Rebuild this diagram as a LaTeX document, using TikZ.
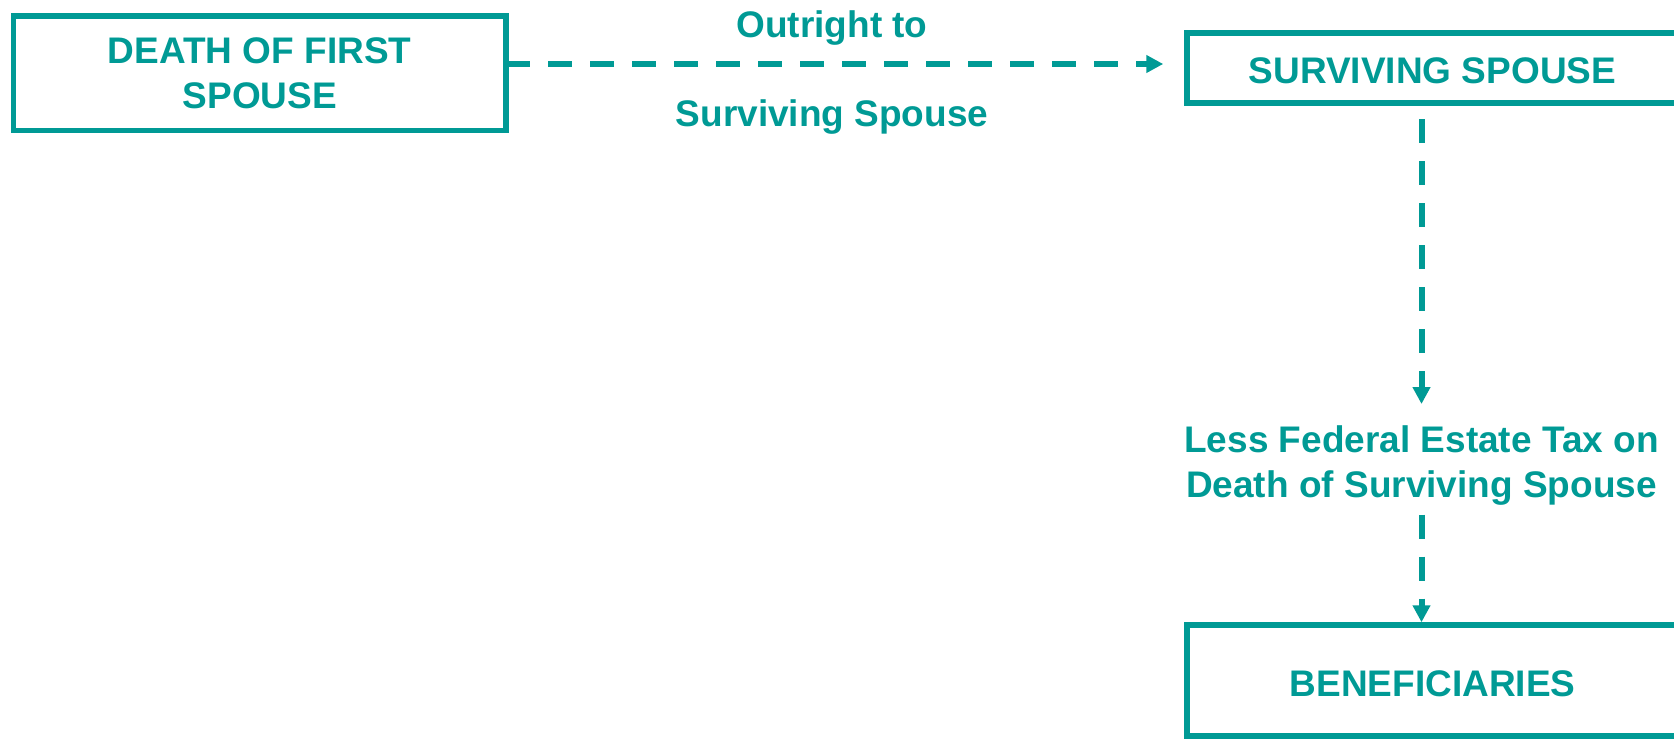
\documentclass[tikz,border=0pt]{standalone}
\usepackage{fontspec}
\setmainfont{Liberation Sans}
\usetikzlibrary{arrows.meta}
\definecolor{tealA}{RGB}{0,154,149}
\begin{document}
\begin{tikzpicture}[x=1pt,y=-1pt,
  every node/.style={text=tealA, font=\bfseries\fontsize{37}{45.5}\selectfont},
  boxnode/.style={draw=tealA, line width=5.5pt, inner sep=0pt, minimum width=491pt},
  conn/.style={draw=tealA, line width=6pt, dash pattern=on 24pt off 18pt,
    -{Triangle[length=17pt,width=17pt]}},
  lbltext/.style={inner sep=0pt, align=center}]
\useasboundingbox (0,0) rectangle (1674,739);
\clip (0,0) rectangle (1674,739);
% boxes
\node[boxnode, align=center, minimum width=492.5pt, minimum height=114.5pt] (b1) at (259.75,73.25) {DEATH OF FIRST\\SPOUSE};
\node[boxnode, minimum height=70pt, text height=30pt, text depth=0pt] (b2) at (1432.5,68) {SURVIVING SPOUSE};
\node[boxnode, minimum height=111pt, text height=31pt, text depth=0pt] (b3) at (1432.5,680.5) {BENEFICIARIES};
% labels
\node[lbltext, anchor=base] (o1) at (832,37) {Outright to};
\node[lbltext, anchor=base] (o2) at (832,126) {Surviving Spouse};
\node[lbltext, anchor=north] (lbl) at (1421.5,425) {Less Federal Estate Tax on\\Death of Surviving Spouse};
% connectors
\coordinate (a1) at ([yshift=9.25pt]b1.east);
\draw[conn, dash phase=2.75pt, shorten >=21pt] (a1) -- (a1 -| b2.west);
\draw[conn, dash phase=28.75pt, shorten >=21pt] (lbl.north |- b2.south) -- (lbl.north);
\draw[conn, dash phase=33pt] (lbl.south) -- (lbl.south |- b3.north);
\end{tikzpicture}
\end{document}
